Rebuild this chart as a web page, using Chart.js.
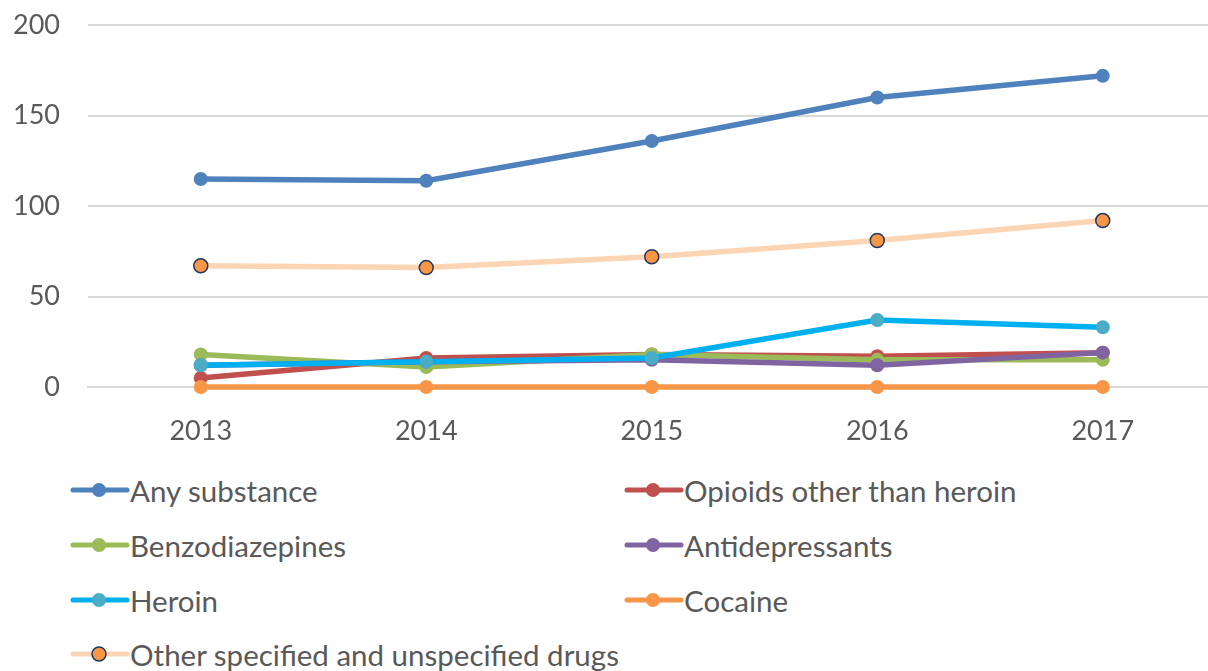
<!DOCTYPE html>
<html>
<head>
<meta charset="utf-8">
<script src="https://cdn.jsdelivr.net/npm/chart.js@4.4.1/dist/chart.umd.min.js"></script>
<style>
    html, body { margin: 0; padding: 0; background: #fff; overflow: hidden; }
    #wrap { position: relative; width: 1224px; height: 671px; }
    #chartBox { position: absolute; left: 0; top: -19px; width: 1224px; height: 479px; }
    .legend { position: absolute; left: 0; top: 0; width: 1208px; font-family: Lato, sans-serif; font-size: 29.5px; color: #595959; }
    .legend-item { position: absolute; display: flex; align-items: center; height: 40px; white-space: nowrap; }
</style>
</head>
<body>
<div id="wrap">
    <div id="chartBox"><canvas id="drugChart"></canvas></div>
    <div class="legend" id="legend"></div>
</div>
<script>
const years = ['2013', '2014', '2015', '2016', '2017'];
const yTicks = [0, 50, 100, 150, 200];

const anySubstance = [115, 114, 136, 160, 172];
const opioidsOther = [5, 16, 18, 17, 19];
const benzodiazepines = [18, 11, 18, 15, 15];
const antidepressants = [12, 14, 15, 12, 19];
const heroin = [12, 14, 16, 37, 33];
const cocaine = [0, 0, 0, 0, 0];
const otherDrugs = [67, 66, 72, 81, 92];

const seriesNames = [
    'Any substance',
    'Opioids other than heroin',
    'Benzodiazepines',
    'Antidepressants',
    'Heroin',
    'Cocaine',
    'Other specified and unspecified drugs'
];
const seriesData = [anySubstance, opioidsOther, benzodiazepines, antidepressants, heroin, cocaine, otherDrugs];
const lineColors = ['#4F81BD', '#C0504D', '#9BBB59', '#8064A2', '#00B0F0', '#F79646', '#FCD5B5'];
const pointColors = ['#4F81BD', '#C0504D', '#9BBB59', '#8064A2', '#4BACC6', '#F79646', '#F79646'];
const pointBorders = ['#4F81BD', '#C0504D', '#9BBB59', '#8064A2', '#4BACC6', '#F79646', '#1F3864'];

const textColor = '#595959';
const gridColor = '#D9D9D9';
const fontFamily = 'Lato, sans-serif';

const datasets = seriesNames.map((name, i) => ({
    label: name,
    data: seriesData[i],
    borderColor: lineColors[i],
    backgroundColor: pointColors[i],
    pointBackgroundColor: pointColors[i],
    pointBorderColor: pointBorders[i],
    pointBorderWidth: i === 6 ? 1.5 : 0,
    pointRadius: 7,
    borderWidth: 5.5,
    tension: 0,
    clip: 12,
    order: seriesNames.length - i,
}));

new Chart(document.getElementById('drugChart'), {
    type: 'line',
    data: { labels: years, datasets },
    options: {
        responsive: true,
        maintainAspectRatio: false,
        animation: false,
        layout: { padding: 0 },
        plugins: { legend: { display: false }, tooltip: { enabled: false } },
        scales: {
            x: {
                offset: true,
                grid: { display: false, drawTicks: false },
                border: { color: gridColor, width: 2 },
                ticks: { color: textColor, font: { family: fontFamily, size: 27 }, padding: 28 },
                afterFit: (scale) => { scale.height = 73; }
            },
            y: {
                min: 0,
                max: 200,
                afterBuildTicks: (scale) => { scale.ticks = yTicks.map(v => ({ value: v })); },
                grid: { color: gridColor, lineWidth: 2, drawTicks: false },
                border: { display: false },
                ticks: { color: textColor, font: { family: fontFamily, size: 27 }, padding: 28 },
                afterFit: (scale) => { scale.width = 88; }
            }
        }
    }
});

// legend laid out in two columns like the original
function buildLegend() {
    const legend = document.getElementById('legend');
    const colX = [70, 624];
    const rowY = [490, 545, 600, 654];
    seriesNames.forEach((name, i) => {
        const item = document.createElement('div');
        item.className = 'legend-item';
        item.style.left = colX[i % 2] + 'px';
        item.style.top = (rowY[Math.floor(i / 2)] - 20) + 'px';
        const c = document.createElement('canvas');
        c.width = 60; c.height = 20;
        const ctx = c.getContext('2d');
        ctx.strokeStyle = lineColors[i];
        ctx.lineWidth = 5;
        ctx.lineCap = 'round';
        ctx.beginPath(); ctx.moveTo(3, 10); ctx.lineTo(57, 10); ctx.stroke();
        ctx.fillStyle = pointColors[i];
        ctx.beginPath(); ctx.arc(29, 10, 7, 0, Math.PI * 2); ctx.fill();
        if (i === 6) { ctx.strokeStyle = pointBorders[i]; ctx.lineWidth = 1.5; ctx.stroke(); }
        item.appendChild(c);
        const span = document.createElement('span');
        span.textContent = name;
        item.appendChild(span);
        legend.appendChild(item);
    });
}
buildLegend();
</script>
</body>
</html>
